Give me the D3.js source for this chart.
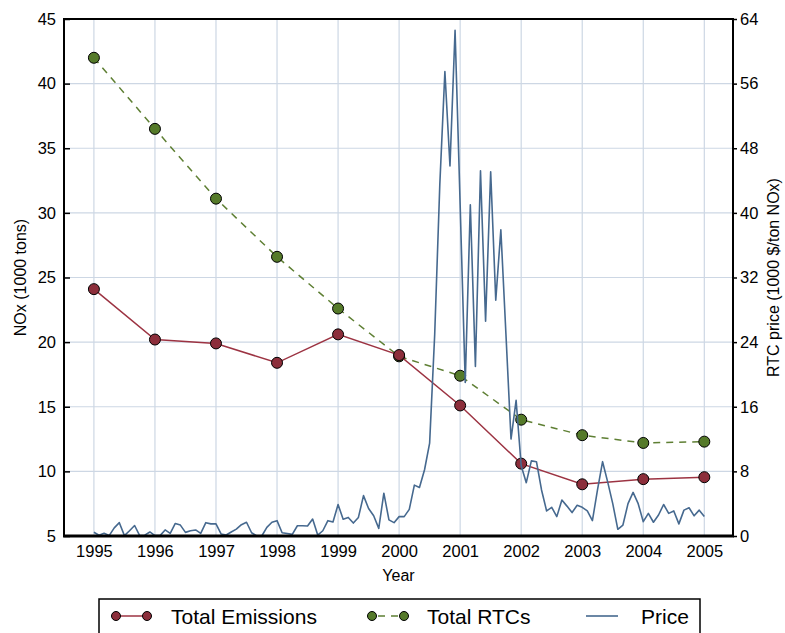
<!DOCTYPE html>
<html>
<head>
<meta charset="utf-8">
<script src="https://cdn.jsdelivr.net/npm/d3@7"></script>
<style>
  body { margin: 0; background: #fff; }
  text { font-family: "Liberation Sans", Arial, sans-serif; fill: #000; }
</style>
</head>
<body>
<div id="chart"></div>
<script>
// annual values
var years = [1995, 1996, 1997, 1998, 1999, 2000, 2001, 2002, 2003, 2004, 2005];
var totalEmissions = [24.1, 20.2, 19.9, 18.4, 20.6, 19.0, 15.1, 10.6, 9.0, 9.4, 9.55];
var totalRTCs = [42.0, 36.5, 31.1, 26.6, 22.6, 18.9, 17.4, 14.0, 12.8, 12.2, 12.3];

// monthly RTC price, Jan 1995 .. Jan 2005 (1000 $/ton NOx)
var price = [
  0.46, 0.1, 0.33, 0.05, 1.0, 1.65, 0.05, 0.65, 1.3, 0.05, 0.1, 0.5,
  0.05, 0.05, 0.75, 0.33, 1.55, 1.35, 0.45, 0.65, 0.75, 0.33, 1.65, 1.5,
  1.5, 0.25, 0.12, 0.5, 0.85, 1.4, 1.7, 0.4, 0.0, 0.0, 1.07, 1.7,
  1.9, 0.4, 0.3, 0.2, 1.27, 1.27, 1.24, 2.1, 0.12, 0.65, 1.9, 1.73,
  3.9, 2.07, 2.3, 1.6, 2.3, 5.0, 3.4, 2.5, 0.95, 5.3, 2.0, 1.65,
  2.4, 2.4, 3.3, 6.3, 6.0, 8.2, 11.5, 25.0, 43.5, 57.5, 45.8, 62.6,
  41.0, 19.0, 41.0, 21.0, 45.2, 26.6, 45.1, 29.2, 37.9, 25.0, 12.0, 16.8,
  8.7, 6.6, 9.3, 9.2, 5.7, 3.1, 3.55, 2.4, 4.45, 3.7, 2.9, 3.8,
  3.55, 3.1, 1.9, 5.7, 9.2, 6.7, 4.0, 0.83, 1.36, 4.0, 5.4, 4.0,
  1.77, 2.8, 1.7, 2.6, 3.9, 2.8, 3.1, 1.5, 3.2, 3.5, 2.5, 3.2,
  2.4
];

var leftTicks = [5, 10, 15, 20, 25, 30, 35, 40, 45];
var rightTicks = [0, 8, 16, 24, 32, 40, 48, 56, 64];

var svgWidth = 785, svgHeight = 633;
var margin = {top: 19, right: 52, bottom: 97, left: 64};
var width = svgWidth - margin.left - margin.right,
    height = svgHeight - margin.top - margin.bottom;

var svg = d3.select("#chart").append("svg")
    .attr("width", svgWidth)
    .attr("height", svgHeight);

var g = svg.append("g")
    .attr("transform", "translate(" + margin.left + "," + margin.top + ")");

var x = d3.scaleLinear().domain([1994.51, 2005.47]).range([0, width]);
var yL = d3.scaleLinear().domain([5, 45]).range([height, 0]);
var yR = d3.scaleLinear().domain([0, 64]).range([height, 0]);

// grid
g.append("g")
  .selectAll("line")
  .data(years)
  .enter().append("line")
    .attr("x1", d => x(d)).attr("x2", d => x(d))
    .attr("y1", 0).attr("y2", height)
    .attr("stroke", "#cdd7e4").attr("stroke-width", 1.2);

g.append("g")
  .selectAll("line")
  .data(leftTicks)
  .enter().append("line")
    .attr("x1", 0).attr("x2", width)
    .attr("y1", d => yL(d)).attr("y2", d => yL(d))
    .attr("stroke", "#cdd7e4").attr("stroke-width", 1.2);

// RTC line (dashed)
var lineRTC = d3.line().x((d, i) => x(years[i])).y(d => yL(d));
g.append("path")
  .datum(totalRTCs)
  .attr("d", lineRTC)
  .attr("fill", "none")
  .attr("stroke", "#5e7f33")
  .attr("stroke-width", 1.5)
  .attr("stroke-dasharray", "7,6");

g.selectAll(".rtc")
  .data(totalRTCs)
  .enter().append("circle")
    .attr("class", "rtc")
    .attr("cx", (d, i) => x(years[i]))
    .attr("cy", d => yL(d))
    .attr("r", 5.5)
    .attr("fill", "#557a2a")
    .attr("stroke", "#000")
    .attr("stroke-width", 1);

// emissions line
var lineEm = d3.line().x((d, i) => x(years[i])).y(d => yL(d));
g.append("path")
  .datum(totalEmissions)
  .attr("d", lineEm)
  .attr("fill", "none")
  .attr("stroke", "#9c3342")
  .attr("stroke-width", 1.5);

g.selectAll(".em")
  .data(totalEmissions)
  .enter().append("circle")
    .attr("class", "em")
    .attr("cx", (d, i) => x(years[i]))
    .attr("cy", d => yL(d))
    .attr("r", 5.5)
    .attr("fill", "#8c2e3b")
    .attr("stroke", "#000")
    .attr("stroke-width", 1);

// price line
var linePrice = d3.line().x((d, i) => x(1995 + i / 12)).y(d => yR(d));
g.append("path")
  .datum(price)
  .attr("d", linePrice)
  .attr("fill", "none")
  .attr("stroke", "#46698f")
  .attr("stroke-width", 1.6)
  .attr("stroke-linejoin", "round");

// axes
var xAxis = d3.axisBottom(x).tickValues(years).tickFormat(d3.format("d")).tickSize(0).tickPadding(9);
var xg = g.append("g").attr("transform", "translate(0," + height + ")").call(xAxis);
xg.select(".domain").remove();

var leftAxis = d3.axisLeft(yL).tickValues(leftTicks).tickSizeInner(-6).tickSizeOuter(0).tickPadding(8);
var lg = g.append("g").call(leftAxis);
lg.select(".domain").remove();
lg.selectAll(".tick line").attr("stroke", "#000").attr("stroke-width", 1.5);

var rightAxis = d3.axisRight(yR).tickValues(rightTicks).tickSizeInner(4).tickSizeOuter(0).tickPadding(3);
var rg = g.append("g").attr("transform", "translate(" + width + ",0)").call(rightAxis);
rg.select(".domain").remove();
rg.selectAll(".tick line").attr("stroke", "#000").attr("stroke-width", 1.5);

g.selectAll(".tick text")
  .style("font-family", "'Liberation Sans', Arial, sans-serif")
  .style("font-size", "16.5px")
  .attr("fill", "#000");

// frame
g.append("rect")
  .attr("x", 0).attr("y", 0)
  .attr("width", width).attr("height", height)
  .attr("fill", "none")
  .attr("stroke", "#000")
  .attr("stroke-width", 2);
g.append("line")
  .attr("x1", -1).attr("x2", width + 1)
  .attr("y1", height).attr("y2", height)
  .attr("stroke", "#000").attr("stroke-width", 3);

// axis titles
g.append("text")
  .attr("x", width / 2)
  .attr("y", height + 45)
  .attr("text-anchor", "middle")
  .style("font-size", "16px")
  .text("Year");

g.append("text")
  .attr("transform", "rotate(-90)")
  .attr("x", -height / 2)
  .attr("y", -margin.left + 26)
  .attr("text-anchor", "middle")
  .style("font-size", "16px")
  .text("NOx (1000 tons)");

g.append("text")
  .attr("transform", "rotate(-90)")
  .attr("x", -height / 2)
  .attr("y", width + 46)
  .attr("text-anchor", "middle")
  .style("font-size", "16px")
  .text("RTC price (1000 $/ton NOx)");

// legend
var legend = svg.append("g");
legend.append("rect")
  .attr("x", 99).attr("y", 599)
  .attr("width", 601).attr("height", 50)
  .attr("fill", "#fff")
  .attr("stroke", "#000")
  .attr("stroke-width", 1.5);

var ly = 616;
legend.append("line").attr("x1", 116).attr("x2", 147).attr("y1", ly).attr("y2", ly)
  .attr("stroke", "#9c3342").attr("stroke-width", 1.5);
legend.selectAll(".lem").data([116, 147]).enter().append("circle")
  .attr("cx", d => d).attr("cy", ly).attr("r", 4.5)
  .attr("fill", "#8c2e3b").attr("stroke", "#000").attr("stroke-width", 1);
legend.append("text").attr("x", 171).attr("y", ly + 7.5)
  .style("font-size", "21px").text("Total Emissions");

legend.append("line").attr("x1", 372).attr("x2", 404).attr("y1", ly).attr("y2", ly)
  .attr("stroke", "#5e7f33").attr("stroke-width", 1.5).attr("stroke-dasharray", "7,6")
  .attr("stroke-dashoffset", -6);
legend.selectAll(".lrtc").data([372, 404]).enter().append("circle")
  .attr("cx", d => d).attr("cy", ly).attr("r", 4.5)
  .attr("fill", "#557a2a").attr("stroke", "#000").attr("stroke-width", 1);
legend.append("text").attr("x", 427).attr("y", ly + 7.5)
  .style("font-size", "21px").text("Total RTCs");

legend.append("line").attr("x1", 586).attr("x2", 618).attr("y1", ly).attr("y2", ly)
  .attr("stroke", "#46698f").attr("stroke-width", 1.6);
legend.append("text").attr("x", 641).attr("y", ly + 7.5)
  .style("font-size", "21px").text("Price");
</script>
</body>
</html>
